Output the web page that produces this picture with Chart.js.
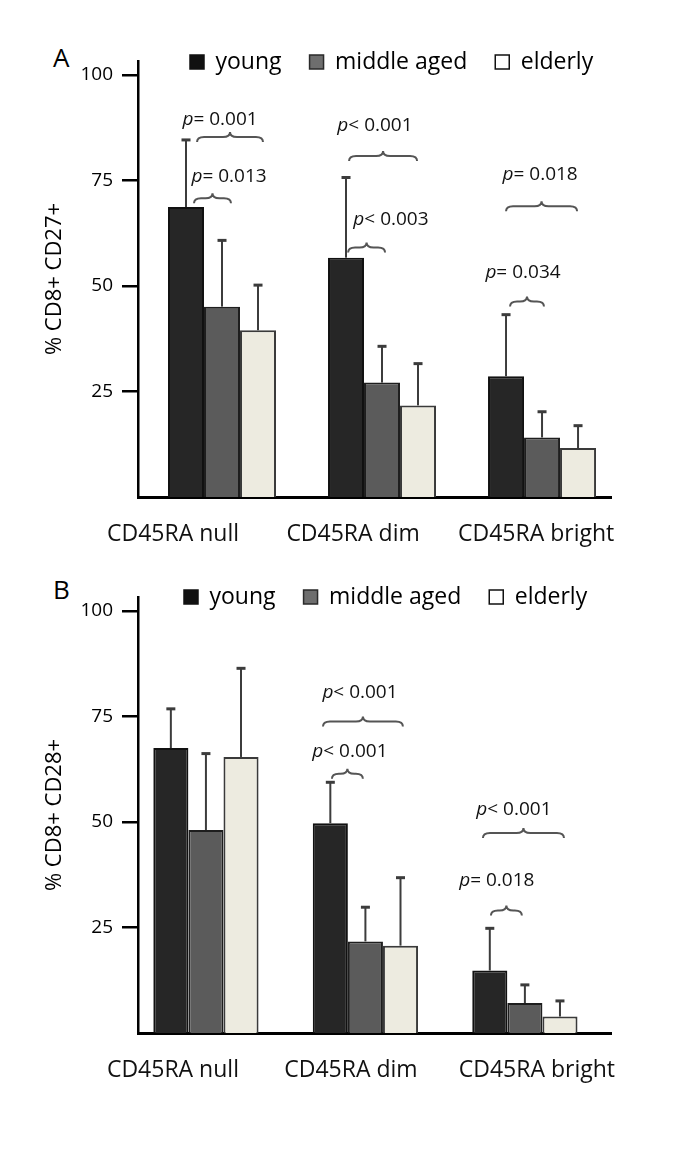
<!DOCTYPE html>
<html>
<head>
<meta charset="utf-8">
<script src="https://cdn.jsdelivr.net/npm/chart.js@4/dist/chart.umd.min.js"></script>
<style>
  html, body { margin: 0; padding: 0; background: #fff; }
  body { width: 685px; height: 1154px; position: relative; overflow: hidden; font-family: "Open Sans", sans-serif; }
  canvas { position: absolute; left: 0; }
  .panel { position: absolute; left: 53px; font-size: 26px; line-height: 26px; color: #000; }
</style>
</head>
<body>
<div class="panel" style="top:44px">A</div>
<div class="panel" style="top:576px">B</div>
<canvas id="chartA" width="685" height="557" style="top:0px"></canvas>
<canvas id="chartB" width="685" height="557" style="top:536px"></canvas>
<script>
// categories and groups
var categories = ["CD45RA null", "CD45RA dim", "CD45RA bright"];
var groups = ["young", "middle aged", "elderly"];
var yTicks = [25, 50, 75, 100];

// A: % CD8+ CD27+ (mean, upper SD)
var cd27Young = [68.7, 56.7, 28.6];
var cd27Middle = [45.1, 27.1, 14.1];
var cd27Elderly = [39.5, 21.7, 11.6];
var cd27YoungSd = [15.9, 19.0, 14.6];
var cd27MiddleSd = [15.7, 8.6, 6.1];
var cd27ElderlySd = [10.7, 9.9, 5.3];

// B: % CD8+ CD28+
var cd28Young = [67.5, 49.7, 14.8];
var cd28Middle = [48.1, 21.7, 7.1];
var cd28Elderly = [65.4, 20.7, 3.9];
var cd28YoungSd = [9.3, 9.7, 10.0];
var cd28MiddleSd = [18.1, 8.1, 4.3];
var cd28ElderlySd = [21.0, 16.1, 3.7];

// p-value labels
var cd27Pvalues = ["p= 0.001", "p= 0.013", "p< 0.001", "p< 0.003", "p= 0.018", "p= 0.034"];
var cd28Pvalues = ["p< 0.001", "p< 0.001", "p< 0.001", "p= 0.018"];

// where the braces sit, in axis units (from, to, level, text x, text y)
var cd27Braces = [
    [-0.156, 0.256, 85.3, -0.012, 89.5],
    [-0.175, 0.056, 70.8, 0.044, 76.0],
    [0.794, 1.219, 80.8, 0.956, 87.9],
    [0.788, 1.019, 59.1, 1.056, 65.8],
    [1.775, 2.219, 68.9, 1.988, 76.5],
    [1.800, 2.012, 46.3, 1.881, 53.2]
];
var cd28Braces = [
    [0.734, 1.235, 73.8, 0.966, 80.7],
    [0.790, 0.984, 61.4, 0.903, 66.7],
    [1.737, 2.245, 47.4, 1.931, 52.9],
    [1.787, 1.981, 29.0, 1.824, 36.2]
];

var barFill = ["#262626", "#5b5b5b", "#edebe0"];
var barEdge = ["#111111", "#1e1e1e", "#3a3a3a"];
var legendFill = ["#111111", "#6e6e6e", "#ffffff"];
var legendEdge = ["#111111", "#2a2a2a", "#111111"];

Chart.defaults.font.family = "'Open Sans', sans-serif";
Chart.defaults.color = "#000";

function points(values){
    return categories.map(function(c, i){ return {x: i, y: values[i]} });
}

var legendSpot = {
    id: "legendSpot",
    afterLayout: function(chart, args, opts){
        var lg = chart.legend;
        var h = lg.height;
        lg.left = opts.x - opts.pad;
        lg.right = lg.left + 600;
        lg.top = opts.y - opts.pad - 11.5;
        lg.bottom = lg.top + h;
    }
};

var errorBars = {
    id: "errorBars",
    afterDatasetsDraw: function(chart){
        var ctx = chart.ctx;
        var ys = chart.scales.y;
        chart.data.datasets.forEach(function(ds, i){
            var meta = chart.getDatasetMeta(i);
            meta.data.forEach(function(bar, j){
                var top = ys.getPixelForValue(ds.data[j].y + ds.sd[j]);
                ctx.save();
                ctx.strokeStyle = "#3c3c3c";
                ctx.lineWidth = 2;
                ctx.beginPath();
                ctx.moveTo(bar.x, bar.y);
                ctx.lineTo(bar.x, top);
                ctx.stroke();
                ctx.lineWidth = 3;
                ctx.beginPath();
                ctx.moveTo(bar.x - 4.5, top);
                ctx.lineTo(bar.x + 4.5, top);
                ctx.stroke();
                ctx.restore();
            })
        })
    }
};

var braces = {
    id: "braces",
    afterDraw: function(chart, args, opts){
        var ctx = chart.ctx;
        var xs = chart.scales.x, ys = chart.scales.y;
        opts.spots.forEach(function(b, k){
            var x0 = xs.getPixelForValue(b[0]);
            var x1 = xs.getPixelForValue(b[1]);
            var y = ys.getPixelForValue(b[2]);
            var xm = (x0 + x1) / 2;
            var r = Math.min(7, (x1 - x0) / 4);
            ctx.save();
            ctx.strokeStyle = "#555";
            ctx.lineWidth = 2;
            ctx.beginPath();
            ctx.moveTo(x0, y + 5);
            ctx.quadraticCurveTo(x0, y, x0 + r, y);
            ctx.lineTo(xm - r, y);
            ctx.quadraticCurveTo(xm, y, xm, y - 5);
            ctx.quadraticCurveTo(xm, y, xm + r, y);
            ctx.lineTo(x1 - r, y);
            ctx.quadraticCurveTo(x1, y, x1, y + 5);
            ctx.stroke();

            // italic p, then the rest upright
            var label = opts.labels[k];
            var tx = xs.getPixelForValue(b[3]);
            var ty = ys.getPixelForValue(b[4]);
            var italic = "italic 19px 'Open Sans', sans-serif";
            var upright = "19px 'Open Sans', sans-serif";
            ctx.font = italic;
            var w1 = ctx.measureText("p").width;
            ctx.font = upright;
            var w2 = ctx.measureText(label.slice(1)).width;
            var left = tx - (w1 + w2) / 2;
            ctx.fillStyle = "#111";
            ctx.textBaseline = "middle";
            ctx.textAlign = "left";
            ctx.font = italic;
            ctx.fillText("p", left, ty);
            ctx.font = upright;
            ctx.fillText(label.slice(1), left + w1, ty);
            ctx.restore();
        })
    }
};

function makeChart(id, cfg){
    var series = [cfg.young, cfg.middle, cfg.elderly];
    var sds = [cfg.youngSd, cfg.middleSd, cfg.elderlySd];
    return new Chart(document.getElementById(id), {
        type: "bar",
        data: {
            datasets: groups.map(function(g, i){
                return {
                    label: g,
                    data: points(series[i]),
                    sd: sds[i],
                    backgroundColor: barFill[i],
                    borderColor: barEdge[i],
                    borderWidth: 2,
                    categoryPercentage: cfg.catPct,
                    barPercentage: 1
                }
            })
        },
        options: {
            responsive: false,
            animation: false,
            events: [],
            layout: {padding: {left: 0, right: 74, top: 0, bottom: 0}},
            plugins: {
                tooltip: {enabled: false},
                legend: {
                    position: "top",
                    align: "start",
                    maxHeight: 63,
                    labels: {
                        boxWidth: 14,
                        boxHeight: 14,
                        padding: 28,
                        color: "#000",
                        font: {size: 23},
                        generateLabels: function(chart){
                            var items = Chart.defaults.plugins.legend.labels.generateLabels(chart);
                            items.forEach(function(it, i){
                                it.fillStyle = legendFill[i];
                                it.strokeStyle = legendEdge[i];
                                it.lineWidth = 1.5;
                            });
                            return items;
                        }
                    }
                },
                legendSpot: {x: cfg.legendX, y: cfg.legendY, pad: 28},
                braces: {labels: cfg.pLabels, spots: cfg.braces}
            },
            scales: {
                x: {
                    type: "linear",
                    offset: false,
                    min: cfg.xMin,
                    max: cfg.xMax,
                    afterFit: function(s){ s.height = 60 },
                    afterBuildTicks: function(s){
                        s.ticks = cfg.labelAt.map(function(v){ return {value: v} });
                    },
                    grid: {display: false, drawTicks: false},
                    border: {display: true, color: "#000", width: 3},
                    ticks: {
                        autoSkip: false,
                        maxRotation: 0,
                        minRotation: 0,
                        padding: 24,
                        color: "#111",
                        font: {size: 23},
                        callback: function(v, i){ return categories[i] }
                    }
                },
                y: {
                    min: 0,
                    max: 103.3,
                    afterFit: function(s){ s.width = 138 },
                    afterBuildTicks: function(s){
                        s.ticks = yTicks.map(function(v){ return {value: v} });
                    },
                    grid: {drawOnChartArea: false, drawTicks: true, tickLength: 16, color: "#000", lineWidth: 2.5},
                    border: {display: true, color: "#000", width: 2.5},
                    ticks: {padding: 9, color: "#000", font: {size: 19}},
                    title: {
                        display: true,
                        text: cfg.yTitle,
                        color: "#000",
                        font: {size: 22},
                        padding: {top: 42, bottom: 0}
                    }
                }
            }
        },
        plugins: [legendSpot, errorBars, braces]
    });
}

makeChart("chartA", {
    young: cd27Young, middle: cd27Middle, elderly: cd27Elderly,
    youngSd: cd27YoungSd, middleSd: cd27MiddleSd, elderlySd: cd27ElderlySd,
    pLabels: cd27Pvalues, braces: cd27Braces,
    yTitle: "% CD8+ CD27+",
    xMin: -0.525, xMax: 2.431,
    labelAt: [-0.306, 0.819, 1.963],
    catPct: 0.675,
    legendX: 190, legendY: 62
});

makeChart("chartB", {
    young: cd28Young, middle: cd28Middle, elderly: cd28Elderly,
    youngSd: cd28YoungSd, middleSd: cd28MiddleSd, elderlySd: cd28ElderlySd,
    pLabels: cd28Pvalues, braces: cd28Braces,
    yTitle: "% CD8+ CD28+",
    xMin: -0.426, xMax: 2.54,
    labelAt: [-0.207, 0.909, 2.075],
    catPct: 0.66,
    legendX: 184, legendY: 61
});
</script>
</body>
</html>
